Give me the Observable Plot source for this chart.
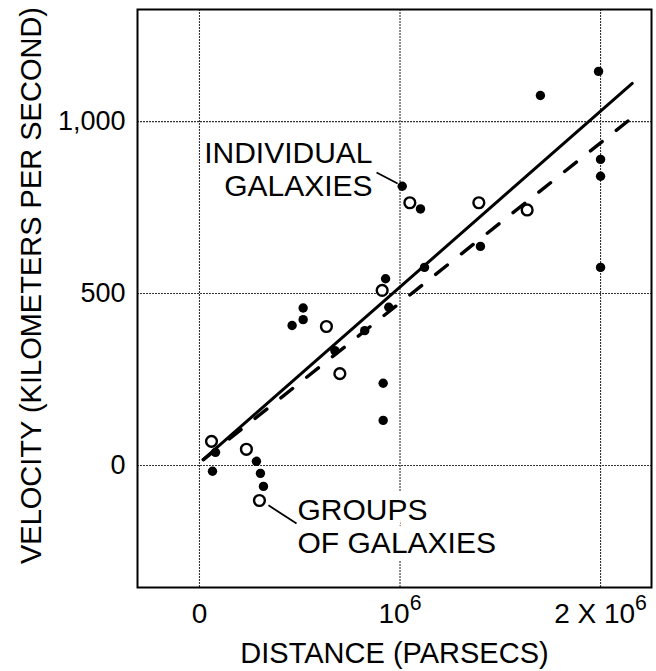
<!DOCTYPE html>
<html>
<head>
<meta charset="utf-8">
<script src="https://cdn.jsdelivr.net/npm/d3@7"></script>
<script src="https://cdn.jsdelivr.net/npm/@observablehq/plot@0.6"></script>
<style>
  html, body { margin: 0; padding: 0; background: #fff; }
</style>
</head>
<body>
<div id="chart"></div>
<script>
// Distances in millions of parsecs, velocities in km/s.
const individualDistance = [0.080, 0.065, 0.284, 0.304, 0.319, 0.462, 0.517, 0.517, 0.675, 0.824, 0.916, 0.916, 0.928, 0.944, 1.011, 1.102, 1.122, 1.401, 1.700, 1.990, 2.000, 2.000, 2.000];
const individualVelocity = [38, -17, 12, -23, -61, 407, 458, 424, 334, 392, 239, 131, 543, 460, 812, 746, 576, 637, 1076, 1146, 890, 841, 576];

const groupDistance = [0.060, 0.234, 0.299, 0.633, 0.700, 0.911, 1.049, 1.393, 1.634];
const groupVelocity = [70, 47, -102, 404, 267, 509, 764, 764, 743];

// Velocity-distance relations: individual galaxies (solid), groups (dashed)
const solidFitDistance = [0.018, 2.158];
const solidFitVelocity = [17, 1111];
const dashedFitDistance = [0.020, 2.150];
const dashedFitVelocity = [17, 1008];

const xTicks = [0, 1, 2];
const xTickLabels = ["0", "10^6", "2 X 10^6"];
const yTicks = [0, 500, 1000];
const yTickLabels = ["0", "500", "1,000"];

const xTitle = "DISTANCE (PARSECS)";
const yTitle = "VELOCITY (KILOMETERS PER SECOND)";

// Callout labels and their leader lines
const calloutText = ["INDIVIDUAL\nGALAXIES", "GROUPS\nOF GALAXIES"];
const calloutDistance = [0.863, 0.489];
const calloutVelocity = [785, -256];
const leaderFromDistance = [0.883, 0.344];
const leaderFromVelocity = [852, -116];
const leaderToDistance = [0.988, 0.484];
const leaderToVelocity = [820, -169];

const individuals = individualDistance.map((d, i) => ({distance: d, velocity: individualVelocity[i]}));
const groups = groupDistance.map((d, i) => ({distance: d, velocity: groupVelocity[i]}));
const solidFit = solidFitDistance.map((d, i) => ({distance: d, velocity: solidFitVelocity[i]}));
const dashedFit = dashedFitDistance.map((d, i) => ({distance: d, velocity: dashedFitVelocity[i]}));
const callouts = calloutText.map((t, i) => ({text: t, distance: calloutDistance[i], velocity: calloutVelocity[i]}));
const leaders = leaderFromDistance.map((d, i) => ({
  x1: d, y1: leaderFromVelocity[i], x2: leaderToDistance[i], y2: leaderToVelocity[i]
}));

const font = "'Liberation Sans', Arial, Helvetica, sans-serif";
const gridStyle = {stroke: "#333", strokeOpacity: 1, strokeWidth: 1.1, strokeDasharray: "2,1"};

const chart = Plot.plot({
  width: 656,
  height: 671,
  marginLeft: 137,
  marginRight: 5,
  marginTop: 9,
  marginBottom: 84,
  x: {domain: [-0.309, 2.254], label: null},
  y: {domain: [-355, 1326], label: null},
  style: {fontFamily: font, fontSize: "25px", color: "black", background: "white"},
  marks: [
    Plot.gridX(xTicks, gridStyle),
    Plot.gridY(yTicks, gridStyle),
    Plot.axisX(xTicks, {
      tickSize: 0, tickPadding: 16, fontSize: 28, label: null,
      tickFormat: d => xTickLabels[xTicks.indexOf(d)]
    }),
    Plot.axisY(yTicks, {
      tickSize: 0, tickPadding: 12, fontSize: 27, label: null,
      tickFormat: d => yTickLabels[yTicks.indexOf(d)]
    }),
    Plot.line(dashedFit, {x: "distance", y: "velocity", stroke: "black", strokeWidth: 3.4, strokeDasharray: "15,18"}),
    Plot.line(solidFit, {x: "distance", y: "velocity", stroke: "black", strokeWidth: 3}),
    Plot.dot(individuals, {x: "distance", y: "velocity", r: 4.7, fill: "black", stroke: "none"}),
    Plot.dot(groups, {x: "distance", y: "velocity", r: 5.4, fill: "white", stroke: "black", strokeWidth: 2.4}),
    Plot.text([callouts[0]], {
      x: "distance", y: "velocity", text: "text", textAnchor: "end", lineAnchor: "bottom",
      lineHeight: 1.08, fontSize: 30, fill: "black"
    }),
    Plot.text([callouts[1]], {
      x: "distance", y: "velocity", text: "text", textAnchor: "start", lineAnchor: "bottom",
      lineHeight: 1.1, fontSize: 30, fill: "black", stroke: "white", strokeWidth: 16
    }),
    Plot.link(leaders, {x1: "x1", y1: "y1", x2: "x2", y2: "y2", stroke: "black", strokeWidth: 1.8}),
    Plot.text([xTitle], {
      text: d => d, frameAnchor: "bottom", textAnchor: "middle", lineAnchor: "bottom", dy: 75, fontSize: 29, fill: "black"
    }),
    Plot.text([yTitle], {
      text: d => d, frameAnchor: "left", textAnchor: "middle", lineAnchor: "middle",
      rotate: -90, dx: -106, dy: -13, fontSize: 29, fill: "black"
    }),
    Plot.frame({stroke: "black", strokeWidth: 2})
  ]
});

// Render "^" in tick labels as a superscript exponent.
chart.querySelectorAll('g[aria-label="x-axis tick label"] text').forEach(t => {
  const s = t.textContent;
  if (!s.includes("^")) return;
  const [base, exp] = s.split("^");
  t.textContent = "";
  const a = document.createElementNS("http://www.w3.org/2000/svg", "tspan");
  a.textContent = base;
  const b = document.createElementNS("http://www.w3.org/2000/svg", "tspan");
  b.textContent = exp;
  b.setAttribute("dy", "-13");
  b.setAttribute("font-size", "0.76em");
  t.append(a, b);
});

document.getElementById("chart").append(chart);
</script>
</body>
</html>
